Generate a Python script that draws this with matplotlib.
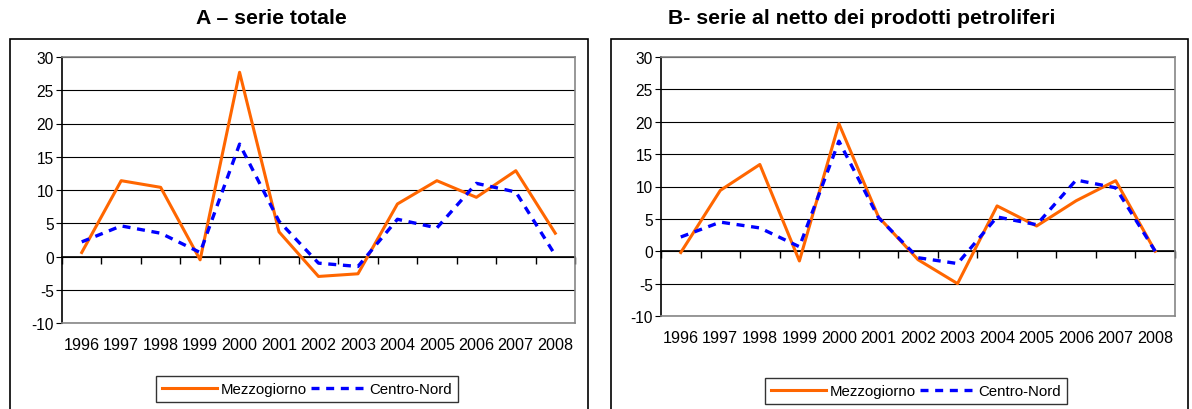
import numpy as np
import matplotlib
matplotlib.use("Agg")
import matplotlib.pyplot as plt
from matplotlib.patches import Rectangle

plt.rcParams['font.family'] = ['Liberation Sans', 'DejaVu Sans']
plt.rcParams['axes.unicode_minus'] = False

years = ['1996', '1997', '1998', '1999', '2000', '2001', '2002',
         '2003', '2004', '2005', '2006', '2007', '2008']

# A - serie totale
mezz_a = [0.6, 11.4, 10.4, -0.5, 27.7, 3.7, -3.0, -2.6, 7.9, 11.4, 8.9, 12.9, 3.5]
cn_a = [2.2, 4.6, 3.5, 0.6, 16.9, 5.3, -1.0, -1.5, 5.6, 4.3, 11.0, 9.7, 0.2]

# B - serie al netto dei prodotti petroliferi
mezz_b = [-0.2, 9.4, 13.4, -1.5, 19.7, 5.3, -1.3, -5.0, 7.0, 3.9, 7.8, 10.9, 0.0]
cn_b = [2.2, 4.5, 3.6, 0.7, 17.0, 5.2, -1.0, -1.9, 5.3, 4.1, 11.0, 9.8, 0.0]

titles = ['A \u2013 serie totale', 'B- serie al netto dei prodotti petroliferi']

ORANGE = '#FF6600'
BLUE = '#0000FF'
GRAY = '#868686'

fig = plt.figure(figsize=(11.92, 4.10), dpi=100)
W, H = 1192.0, 410.0


def px_box(x0, y0, x1, y1):
    # pixel box (top-left origin) -> figure fraction [l, b, w, h]
    return [x0 / W, 1 - y1 / H, (x1 - x0) / W, (y1 - y0) / H]


panels = [
    dict(ax=px_box(62, 58, 575, 324), frame=(10, 40, 588, 412), title_x=271,
         legend=(307, 390), mezz=mezz_a, cn=cn_a),
    dict(ax=px_box(661, 58, 1175, 317), frame=(611, 40, 1188, 412), title_x=862,
         legend=(916, 392), mezz=mezz_b, cn=cn_b),
]

x = np.arange(len(years))

for p, title in zip(panels, titles):
    fx0, fy0, fx1, fy1 = p['frame']
    fig.patches.append(Rectangle((fx0 / W, 1 - fy1 / H), (fx1 - fx0) / W, (fy1 - fy0) / H,
                                 transform=fig.transFigure, fill=False,
                                 edgecolor='black', lw=1.2))
    fig.text(p['title_x'] / W, 1 - 19 / H, title, ha='center', va='center',
             fontsize=15.3, fontweight='bold')

    ax = fig.add_axes(p['ax'])
    l1, = ax.plot(x, p['mezz'], color=ORANGE, lw=2.2, label='Mezzogiorno')
    l2, = ax.plot(x, p['cn'], color=BLUE, lw=2.4, dashes=(2.4, 2.0),
                  label='Centro-Nord')

    ax.set_xlim(-0.5, len(years) - 0.5)
    ax.set_ylim(-10, 30)
    ax.set_yticks(np.arange(-10, 31, 5))
    ax.yaxis.grid(True, color='black', lw=0.8)
    ax.set_axisbelow(True)
    ax.tick_params(axis='y', length=4, direction='out', pad=2, labelsize=11.2)

    ax.set_xticks(x)
    ax.set_xticklabels(years)
    ax.tick_params(axis='x', length=0, pad=10, labelsize=11.6)

    for side in ['top', 'right', 'bottom']:
        ax.spines[side].set_color(GRAY)
        ax.spines[side].set_linewidth(1.2)
    ax.spines['left'].set_color('black')
    ax.spines['left'].set_linewidth(1.2)

    # category axis crossing at zero, ticks between categories
    sec = ax.secondary_xaxis(0, transform=ax.transData)
    sec.set_xticks(np.arange(-0.5, len(years), 1))
    sec.tick_params(axis='x', length=5, direction='out', labelbottom=False,
                    width=1, color='black')
    sec.spines['bottom'].set_color('black')
    sec.spines['bottom'].set_linewidth(1.2)

    lx, ly = p['legend']
    leg = fig.legend(handles=[l1, l2], loc='center',
                     bbox_to_anchor=(lx / W, 1 - ly / H), ncol=2,
                     fontsize=10.8, frameon=True, fancybox=False,
                     edgecolor='black', handlelength=3.7, handletextpad=0.2,
                     columnspacing=0.3, borderpad=0.4, borderaxespad=0)
    leg.get_frame().set_linewidth(1.0)

fig.savefig('out.png', dpi=100)
